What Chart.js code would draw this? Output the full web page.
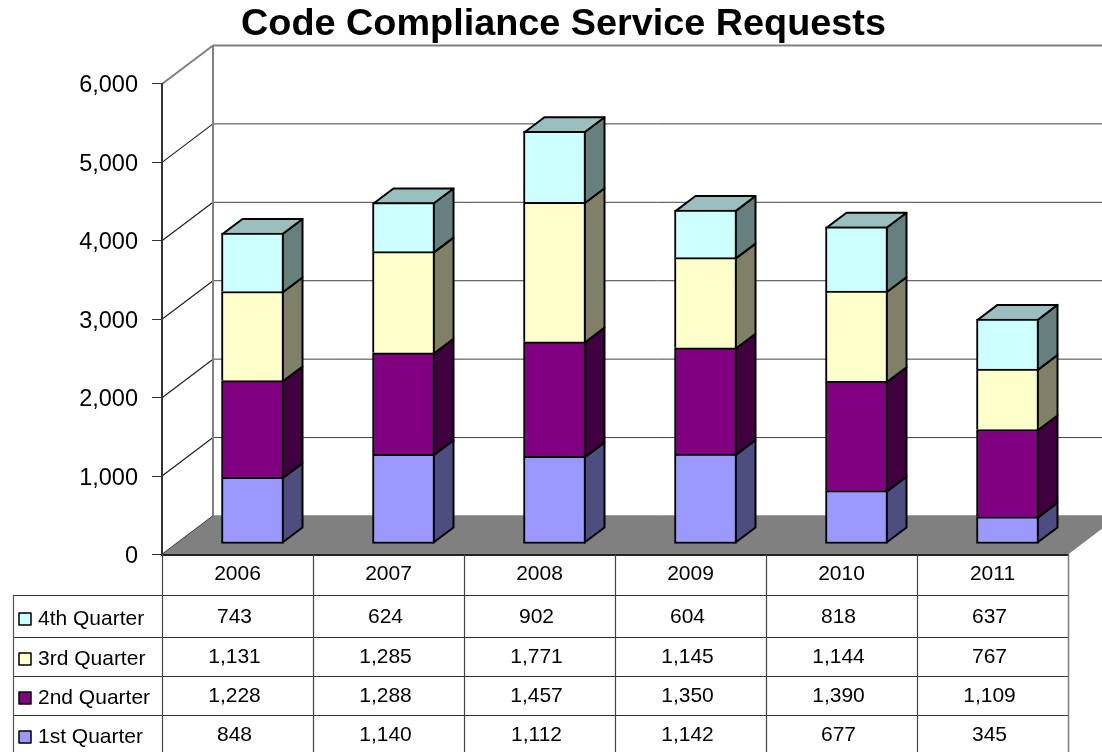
<!DOCTYPE html>
<html>
<head>
<meta charset="utf-8">
<title>Code Compliance Service Requests</title>
<script src="https://cdn.jsdelivr.net/npm/chart.js@4"></script>
<style>
  html, body { margin: 0; padding: 0; background: #fff; }
  canvas { display: block; }
</style>
</head>
<body>
<canvas id="complianceChart" width="1102" height="752"></canvas>
<script>
const years = ["2006", "2007", "2008", "2009", "2010", "2011"];
const q1 = [848, 1140, 1112, 1142, 677, 345];
const q2 = [1228, 1288, 1457, 1350, 1390, 1109];
const q3 = [1131, 1285, 1771, 1145, 1144, 767];
const q4 = [743, 624, 902, 604, 818, 637];
const quarterNames = ["1st Quarter", "2nd Quarter", "3rd Quarter", "4th Quarter"];
const quarterValues = [q1, q2, q3, q4];
const faceColors = ["#9999ff", "#800080", "#ffffcc", "#ccffff"];
const sideColors = ["#4d4d80", "#400040", "#808066", "#668080"];
const topColor = "#99bfbf";

const FONT = '"Liberation Sans", Arial, sans-serif';

// fake 3d: how far the back wall and the bar depth sit from the front plane
const WALL = { dx: 51, dy: -38.5 };
const BAR_SHIFT = { dx: 15, dy: -10.5 };
const BAR_DEPTH = { dx: 20, dy: -15 };
const BAR_STRETCH = 1.004;

function poly(ctx, pts, fill, stroke, width) {
  ctx.beginPath();
  pts.forEach((p, i) => (i ? ctx.lineTo(p[0], p[1]) : ctx.moveTo(p[0], p[1])));
  ctx.closePath();
  if (fill) {
    ctx.fillStyle = fill;
    ctx.fill();
  }
  if (stroke) {
    ctx.strokeStyle = stroke;
    ctx.lineWidth = width;
    ctx.lineJoin = "round";
    ctx.stroke();
  }
}

function line(ctx, x1, y1, x2, y2, color, width) {
  ctx.beginPath();
  ctx.moveTo(x1, y1);
  ctx.lineTo(x2, y2);
  ctx.strokeStyle = color;
  ctx.lineWidth = width;
  ctx.stroke();
}

// walls and floor go under the scales
const wallsPlugin = {
  id: "walls",
  beforeDraw(chart) {
    const { ctx, chartArea: a, scales } = chart;
    ctx.save();
    scales.y.ticks.forEach((t, i) => {
      const y = scales.y.getPixelForValue(t.value);
      const isTop = i === scales.y.ticks.length - 1;
      const color = isTop ? "#808080" : "#404040";
      line(ctx, a.left, y, a.left + WALL.dx, y + WALL.dy, isTop ? "#808080" : "#202020", isTop ? 2 : 1.2);
      line(ctx, a.left + WALL.dx, y + WALL.dy, chart.width, y + WALL.dy, color, isTop ? 2 : 1);
    });
    line(ctx, a.left + WALL.dx, a.top + WALL.dy, a.left + WALL.dx, a.bottom + WALL.dy, "#808080", 2);
    poly(ctx, [
      [a.left, a.bottom],
      [a.right, a.bottom],
      [a.right + WALL.dx, a.bottom + WALL.dy],
      [a.left + WALL.dx, a.bottom + WALL.dy],
    ], "#808080");
    ctx.restore();
  },
};

// bar side faces come from the real bar elements, then everything gets shifted into the box
const depthPlugin = {
  id: "depth",
  beforeDatasetsDraw(chart) {
    const { ctx, chartArea: a } = chart;
    ctx.save();
    ctx.translate(BAR_SHIFT.dx, BAR_SHIFT.dy + a.bottom);
    ctx.scale(1, BAR_STRETCH);
    ctx.translate(0, -a.bottom);
    chart.data.datasets.forEach((ds, d) => {
      chart.getDatasetMeta(d).data.forEach((bar) => {
        const r = bar.x + bar.width / 2 - 1;
        const l = bar.x - bar.width / 2 + 1;
        const top = bar.y + 1;
        // upper segments start on the line of the one below
        const base = d === 0 ? bar.base - 1 : bar.base + 1;
        poly(ctx, [
          [r, top],
          [r + BAR_DEPTH.dx, top + BAR_DEPTH.dy],
          [r + BAR_DEPTH.dx, base + BAR_DEPTH.dy],
          [r, base],
        ], sideColors[d], "#000", 2);
        if (d === chart.data.datasets.length - 1) {
          poly(ctx, [
            [l, top],
            [r, top],
            [r + BAR_DEPTH.dx, top + BAR_DEPTH.dy],
            [l + BAR_DEPTH.dx, top + BAR_DEPTH.dy],
          ], topColor, "#000", 2);
        }
      });
    });
  },
  afterDatasetsDraw(chart) {
    chart.ctx.restore();
  },
};

// data table under the x axis
const ROW_LINES = [595.5, 637.5, 676.5, 715.5];
const VALUE_Y = [735, 696, 657, 617];
const NAME_Y = [737, 698, 659, 619];
const KEY_Y = [731, 692, 653, 613];

const tablePlugin = {
  id: "dataTable",
  afterDraw(chart) {
    const { ctx, chartArea: a, scales } = chart;
    const colW = scales.x.width / years.length;
    ctx.save();
    ROW_LINES.forEach((y) => line(ctx, 13, y, a.right, y, "#333", 1.2));
    for (let i = 0; i <= years.length; i++) {
      const x = Math.round(a.left + i * colW) + 0.5;
      const last = i === years.length;
      line(ctx, x, a.bottom, x, 752, last ? "#808080" : "#444", last ? 1.6 : 1.2);
    }
    line(ctx, 13.5, ROW_LINES[0], 13.5, 752, "#555", 1.2);

    ctx.font = "21px " + FONT;
    ctx.textBaseline = "middle";
    quarterNames.forEach((name, q) => {
      ctx.textAlign = "left";
      ctx.fillStyle = "#000";
      ctx.fillText(name, 38, NAME_Y[q]);
      poly(ctx, [
        [19, KEY_Y[q]],
        [31, KEY_Y[q]],
        [31, KEY_Y[q] + 12],
        [19, KEY_Y[q] + 12],
      ], faceColors[q], "#000", 1.5);
      ctx.fillStyle = "#000";
      ctx.textAlign = "center";
      quarterValues[q].forEach((v, i) => {
        const x = scales.x.getPixelForValue(i) - 3;
        ctx.fillText(v.toLocaleString("en-US"), x, VALUE_Y[q]);
      });
    });
    ctx.restore();
  },
};

new Chart(document.getElementById("complianceChart"), {
  type: "bar",
  data: {
    labels: years,
    datasets: quarterNames.map((name, q) => ({
      label: name,
      data: quarterValues[q],
      backgroundColor: faceColors[q],
      borderColor: "#000",
      borderWidth: 2,
      borderSkipped: q === 0 ? false : "bottom",
      barThickness: 62,
      clip: false,
    })),
  },
  options: {
    responsive: false,
    animation: false,
    events: [],
    layout: { padding: { left: 59, right: 34, top: 0, bottom: 0 } },
    plugins: {
      legend: { display: false },
      tooltip: { enabled: false },
      title: {
        display: true,
        text: "Code Compliance Service Requests",
        color: "#000",
        font: { family: FONT, size: 37.8, weight: "bold", lineHeight: 1.2 },
        padding: { top: 1.5, bottom: 37.1 },
      },
    },
    scales: {
      x: {
        stacked: true,
        grid: { display: false },
        border: { color: "#222", width: 2 },
        ticks: { color: "#000", font: { family: FONT, size: 21 }, padding: -1, maxRotation: 0 },
        afterFit: (scale) => {
          scale.height = 197.5;
        },
      },
      y: {
        stacked: true,
        min: 0,
        max: 6000,
        grid: { drawOnChartArea: false, color: "#333", tickLength: 10 },
        border: { color: "#333", width: 2 },
        ticks: {
          stepSize: 1000,
          color: "#000",
          padding: 14,
          font: { family: FONT, size: 23.5, lineHeight: "4px" },
          // empty first line pushes the label 2px down, the reference sits a bit under its tick
          callback: (value) => ["", value.toLocaleString("en-US")],
        },
        afterFit: (scale) => {
          scale.width = 103;
        },
      },
    },
  },
  plugins: [wallsPlugin, depthPlugin, tablePlugin],
});
</script>
</body>
</html>
